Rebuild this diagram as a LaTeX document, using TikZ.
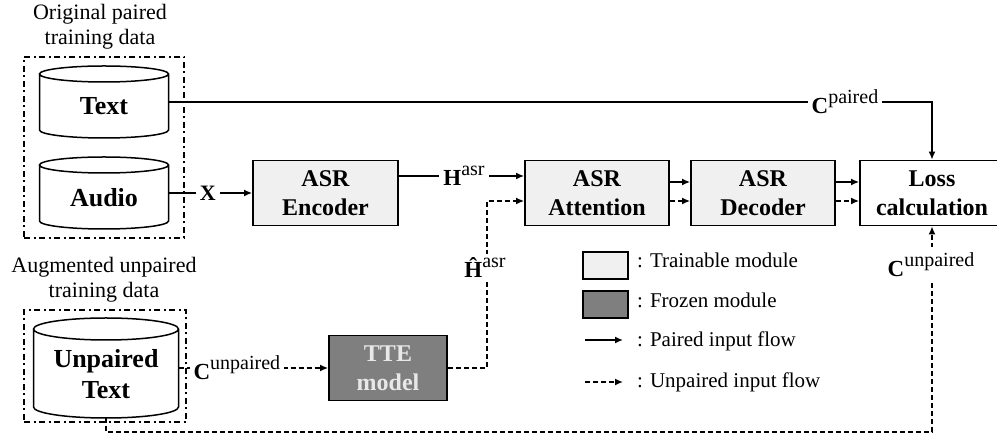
\documentclass[tikz,border=0pt]{standalone}
\usepackage{fontspec}
\setmainfont{Liberation Serif}
\usetikzlibrary{arrows.meta}
\definecolor{tgray}{HTML}{F0F0F0}
\definecolor{fgray}{HTML}{7F7F7F}
\definecolor{ftext}{HTML}{E8E8E8}
\newcommand\cylfont{\fontsize{26}{31}\selectfont\bfseries}
\newcommand\boxfont{\fontsize{24}{29}\selectfont\bfseries}
\newcommand\supl[2]{{\fontsize{23}{25}\selectfont\textbf{#1}}\raisebox{10pt}{\fontsize{20}{20}\selectfont #2}}
\newcommand\cylout[3]{\draw[cylline] ([yshift=-#2pt]#1.north west) -- ([yshift=#2pt]#1.south west) arc[start angle=180, end angle=360, x radius=#3pt, y radius=#2pt] -- ([yshift=-#2pt]#1.north east) arc[start angle=0, end angle=360, x radius=#3pt, y radius=#2pt];}
\tikzset{
  grp/.style={draw, line width=1.5pt, dash pattern=on 6pt off 3.5pt on 2pt off 3.5pt, inner sep=0pt},
  grouptitle/.style={align=center, font=\fontsize{22}{25}\selectfont, inner sep=0pt},
  cylnode/.style={inner sep=0pt, outer sep=0pt},
  cylline/.style={line width=1.5pt},
  box/.style={draw, line width=1.8pt, minimum height=65pt, inner sep=0pt, align=center, font=\boxfont},
  train/.style={box, fill=tgray},
  frozen/.style={box, fill=fgray, text=ftext},
  conn/.style={line width=1.5pt, -{Latex[length=8pt,width=7pt]}},
  dconn/.style={conn, dash pattern=on 5pt off 3pt},
  lbl/.style={fill=white, inner xsep=4pt, inner ysep=1pt},
  legtext/.style={font=\fontsize{21}{24}\selectfont, inner sep=0pt, anchor=base west}
}
\begin{document}
\begin{tikzpicture}[x=1pt,y=1pt]
\useasboundingbox (0,0) rectangle (997,436);
% groups
\node[grp, minimum width=160pt, minimum height=181pt] (g1) at (104,288.5) {};
\node[grp, minimum width=162pt, minimum height=112pt] (g2) at (105,70) {};
\node[grouptitle] (t1) at (100,409) {Original paired\\training data};
\node[grouptitle] (t2) at (104,156) {Augmented unpaired\\training data};
% cylinders
\node[cylnode, minimum width=129pt, minimum height=72pt, label={[font=\cylfont, yshift=-4pt]center:Text}] (txt) at (104,334) {};
\cylout{txt}{8}{64.5}
\node[cylnode, minimum width=129pt, minimum height=72pt, label={[font=\cylfont, yshift=-5pt]center:Audio}] (aud) at (104,243) {};
\cylout{aud}{8}{64.5}
\node[cylnode, minimum width=145pt, minimum height=100pt, label={[font=\cylfont, align=center, yshift=-6pt]center:Unpaired\\Text}] (unp) at (106,68) {};
\cylout{unp}{11}{72.5}
% modules
\node[train, minimum width=145pt] (enc) at (325.5,243) {ASR\\Encoder};
\node[train, minimum width=144pt] (att) at (597,243) {ASR\\Attention};
\node[train, minimum width=144pt] (dec) at (763,243) {ASR\\Decoder};
\node[box, fill=white, minimum width=144pt] (loss) at (932,243) {Loss\\calculation};
\node[frozen, minimum width=118pt] (tte) at (388,68) {TTE\\model};
% connectors
\draw[conn] (txt.east) -| node[lbl, pos=0.443] {\supl{C}{paired}} (loss.north);
\draw[conn] (aud.east) -- node[lbl, pos=0.47] {\fontsize{22}{24}\selectfont\textbf{X}} (enc.west);
\draw[conn] ([yshift=17pt]enc.east) -- node[lbl, pos=0.52] {\supl{H}{asr}} ([yshift=17pt]att.west);
\coordinate (hc) at (487,235);
\draw[dconn] (tte.east) -| (hc) -- ([yshift=-8pt]att.west);
\node[lbl, inner ysep=4pt] (hhat) at (485,168) {\supl{\^H}{asr}};
\draw[conn] ([yshift=11pt]att.east) -- ([yshift=11pt]dec.west);
\draw[dconn] ([yshift=-8pt]att.east) -- ([yshift=-8pt]dec.west);
\draw[conn] ([yshift=11pt]dec.east) -- ([yshift=11pt]loss.west);
\draw[dconn] ([yshift=-8pt]dec.east) -- ([yshift=-8pt]loss.west);
\draw[dconn] (unp.east) -- node[lbl, pos=0.39] {\supl{C}{unpaired}} (tte.west);
\coordinate (bc) at (932,4);
\draw[dconn] (unp.south) |- (bc) -- (loss.south);
\node[lbl, inner ysep=6pt] (cu) at (931,171) {\supl{C}{unpaired}};
% legend
\node[train, minimum width=45pt, minimum height=27pt] (lt) at (605.5,170.5) {};
\node[frozen, minimum width=45pt, minimum height=27pt] (lf) at (605.5,131.5) {};
\node[legtext] (ltt) at (637,168) {: Trainable module};
\node[legtext] (lft) at (637,128) {: Frozen module};
\node[legtext] (lpt) at (637,89) {: Paired input flow};
\node[legtext] (lut) at (637,48) {: Unpaired input flow};
\coordinate (pa1) at (585,96);
\coordinate (pa2) at (623,96);
\coordinate (ua1) at (585,54);
\coordinate (ua2) at (623,54);
\draw[conn] (pa1) -- (pa2);
\draw[dconn] (ua1) -- (ua2);
\end{tikzpicture}
\end{document}
